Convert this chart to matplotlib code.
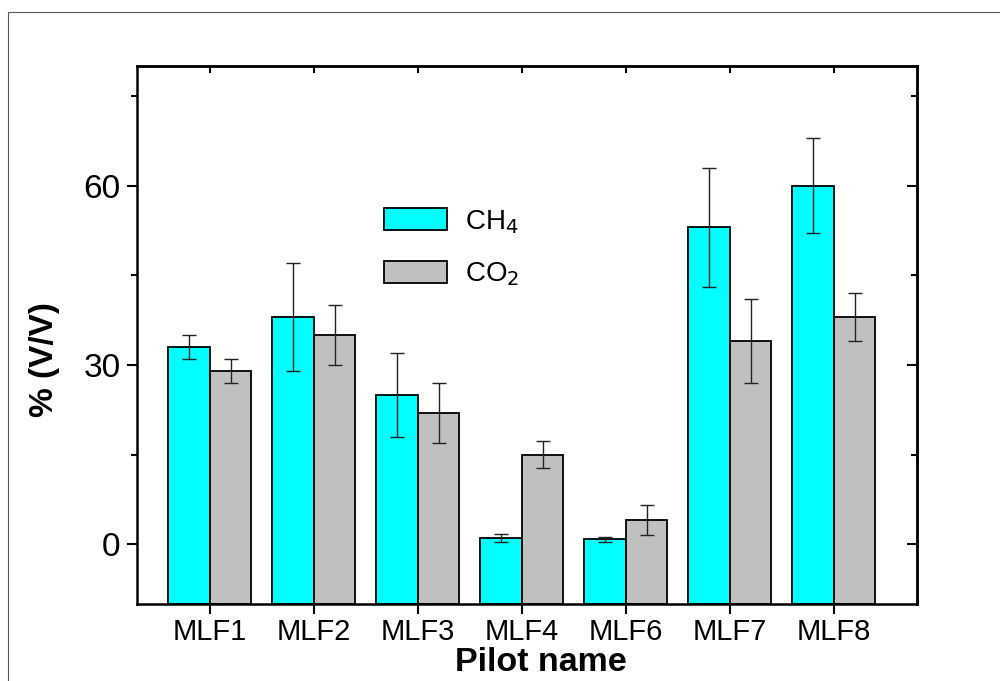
import matplotlib
matplotlib.use("Agg")
import matplotlib.pyplot as plt
import numpy as np
from matplotlib.patches import Rectangle
from matplotlib.ticker import MultipleLocator

plt.rcParams['font.family'] = ['Liberation Sans', 'DejaVu Sans']

categories = ["MLF1", "MLF2", "MLF3", "MLF4", "MLF6", "MLF7", "MLF8"]
ch4 = [33, 38, 25, 1.0, 0.8, 53, 60]
ch4_err = [2, 9, 7, 0.7, 0.4, 10, 8]
co2 = [29, 35, 22, 15, 4, 34, 38]
co2_err = [2, 5, 5, 2.3, 2.5, 7, 4]
y_ticks = [0, 30, 60]

YMIN, YMAX = -10, 80

fig = plt.figure(figsize=(10, 6.81), dpi=100)
fig.patches.append(Rectangle((8/1000, -0.1), 1.2, (681-12)/681 + 0.1,
                             transform=fig.transFigure, fill=False,
                             edgecolor='#555555', linewidth=0.8))
ax = fig.add_axes([137/1000, 1-604/681, (917-137)/1000, (604-66)/681])

x = np.arange(len(categories))
w = 0.4
ekw = dict(ecolor='#222222', elinewidth=1, capsize=5, capthick=1)
# bars are anchored at the bottom of the plot frame, as in the original
ax.bar(x - w/2, np.array(ch4) - YMIN, w, bottom=YMIN, color='#00FFFF',
       edgecolor='black', linewidth=1.3, label='CH$_4$', zorder=2)
ax.errorbar(x - w/2, ch4, yerr=ch4_err, fmt='none', zorder=3, **ekw)
ax.bar(x + w/2, np.array(co2) - YMIN, w, bottom=YMIN, color='#C0C0C0',
       edgecolor='black', linewidth=1.3, label='CO$_2$', zorder=2)
ax.errorbar(x + w/2, co2, yerr=co2_err, fmt='none', zorder=3, **ekw)

ax.set_xlim(-0.7, 6.8)
ax.set_ylim(YMIN, YMAX)
ax.set_xticks(x)
ax.set_xticklabels(categories, fontsize=21)
ax.set_yticks(y_ticks)
ax.set_yticklabels([str(v) for v in y_ticks], fontsize=24)
ax.yaxis.set_minor_locator(MultipleLocator(15))
ax.tick_params(axis='y', which='major', direction='out', length=7, width=1.5, pad=5)
ax.tick_params(axis='y', which='minor', direction='out', length=4, width=1.5)
ax.tick_params(axis='x', which='major', direction='out', length=7, width=1.5, pad=3)

ax2 = ax.secondary_yaxis('right')
ax2.set_yticks(y_ticks)
ax2.yaxis.set_minor_locator(MultipleLocator(15))
ax2.tick_params(axis='y', which='major', direction='in', length=7, width=1.5, labelright=False)
ax2.tick_params(axis='y', which='minor', direction='in', length=4, width=1.5)
ax2.spines['right'].set_linewidth(1.8)
ax3 = ax.secondary_xaxis('top')
ax3.set_xticks(x)
ax3.tick_params(axis='x', direction='in', length=5, width=1.5, labeltop=False)
ax3.spines['top'].set_linewidth(1.8)

for s in ax.spines.values():
    s.set_linewidth(1.8)

ax.set_xlabel("Pilot name", fontsize=24.5, fontweight='bold', labelpad=0.5)
ax.xaxis.label.set_x(0.518)
ax.set_ylabel("% (V/V)", fontsize=24, fontweight='bold', labelpad=17)
ax.yaxis.label.set_y(0.455)

leg = ax.legend(loc='upper left', bbox_to_anchor=(0.284, 0.783), frameon=False,
                fontsize=20, handlelength=2.3, handleheight=0.85, labelspacing=0.9,
                handletextpad=0.65)

fig.savefig("out.png", dpi=100)
